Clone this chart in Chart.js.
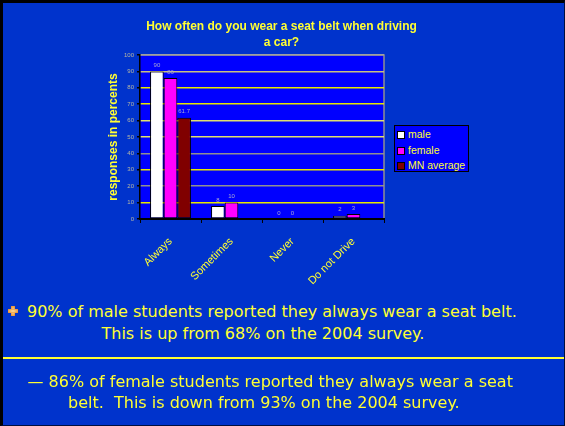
<!DOCTYPE html>
<html>
<head>
<meta charset="utf-8">
<script src="https://cdn.jsdelivr.net/npm/chart.js@4.4.1/dist/chart.umd.min.js"></script>
<style>
  html, body { margin: 0; padding: 0; background: #0033cc; }
  body { width: 565px; height: 426px; position: relative; overflow: hidden; font-family: Arial, "Liberation Sans", sans-serif; }
  #frame { position: absolute; left: 0; top: 0; width: 565px; height: 426px; border-left: 3px solid #000; border-top: 3px solid #000; border-right: 1px solid #001040; border-bottom: 1px solid #001040; box-sizing: border-box; }
  #chart { position: absolute; left: 0; top: 0; }
  #title { position: absolute; left: 100px; width: 363px; top: 18px; text-align: center; color: #ffff33; font: bold 12px/16px Arial, "Liberation Sans", sans-serif; }
  #legend { position: absolute; left: 394px; top: 125px; width: 75px; height: 47px; box-sizing: border-box; background: #0000ff; border: 1px solid #000; padding: 1px 0 0 2px; }
  .item { height: 15.5px; line-height: 14px; color: #ffff33; font-size: 10.5px; white-space: nowrap; }
  .swatch { display: inline-block; width: 6px; height: 6px; border: 1px solid #000; margin-right: 3px; vertical-align: -1px; }
  .txt { position: absolute; color: #ffff33; font: 16px "DejaVu Sans", sans-serif; white-space: nowrap; }
  #rule { position: absolute; left: 0; top: 357px; width: 565px; height: 2px; background: #ffff33; }
  #bullet { position: absolute; left: 8px; top: 306px; width: 10px; height: 10px; }
  #bullet:before, #bullet:after { content: ""; position: absolute; background: radial-gradient(#ffe0a0, #e08020); }
  #bullet:before { left: 3px; top: 0; width: 4px; height: 10px; }
  #bullet:after { left: 0; top: 3px; width: 10px; height: 4px; }
</style>
</head>
<body>
<canvas id="chart" width="565" height="290"></canvas>
<div id="title">How often do you wear a seat belt when driving<br>a car?</div>
<div id="legend"></div>
<div id="bullet"></div>
<div class="txt" id="l1" style="left:27px; top:302px;">90% of male students reported they always wear a seat belt.</div>
<div class="txt" id="l2" style="top:324px;">This is up from 68% on the 2004 survey.</div>
<div id="rule"></div>
<div class="txt" id="l3" style="top:372px;">— 86% of female students reported they always wear a seat</div>
<div class="txt" id="l4" style="top:393px;">belt.&nbsp; This is down from 93% on the 2004 survey.</div>
<div id="frame"></div>
<script>
// categories and series
let categories = ["Always", "Sometimes", "Never", "Do not Drive"];
let male = [90, 8, 0, 2];
let female = [86, 10, 0, 3];
let mnAverage = [61.7, null, null, null];
let seriesNames = ["male", "female", "MN average"];
let seriesColors = ["#ffffff", "#ff00ff", "#800000"];
let yTicks = [0, 10, 20, 30, 40, 50, 60, 70, 80, 90, 100];

// gridline colours per tick (yellow / grey like the original)
let gridColors = ["#000000", "#e8e800", "#909090", "#e8e800", "#909090", "#e0e070", "#e0e070", "#e8e800", "#e8e800", "#c8c080", "#a0a0a0"];

// centre the text lines
function centreAt(id, cx) {
  let el = document.getElementById(id);
  el.style.left = (cx - el.offsetWidth / 2) + "px";
}
centreAt("l2", 263);
centreAt("l3", 270);
centreAt("l4", 264);

// legend
let legend = document.getElementById("legend");
for (let i = 0; i < seriesNames.length; i++) {
  let d = document.createElement("div");
  d.className = "item";
  d.innerHTML = '<span class="swatch" style="background:' + seriesColors[i] + '"></span>' + seriesNames[i];
  legend.appendChild(d);
}

// plot background + right/top frame
let plotBg = {
  id: "plotBg",
  beforeDraw(chart) {
    let a = chart.chartArea, ctx = chart.ctx;
    ctx.save();
    ctx.fillStyle = "#0000ff";
    ctx.fillRect(a.left, a.top, a.right - a.left, a.bottom - a.top);
    ctx.strokeStyle = "#909090";
    ctx.lineWidth = 1.5;
    ctx.beginPath();
    ctx.moveTo(a.left, a.top);
    ctx.lineTo(a.right, a.top);
    ctx.lineTo(a.right, a.bottom);
    ctx.stroke();
    ctx.restore();
  }
};

// value labels above bars
let valueLabels = {
  id: "valueLabels",
  afterDatasetsDraw(chart) {
    let ctx = chart.ctx;
    ctx.save();
    ctx.font = "6px Arial";
    ctx.fillStyle = "#a8a8d0";
    ctx.textAlign = "center";
    ctx.textBaseline = "bottom";
    chart.data.datasets.forEach((ds, di) => {
      chart.getDatasetMeta(di).data.forEach((bar, i) => {
        let v = ds.data[i];
        if (v === null || v === undefined) return;
        ctx.fillText(String(v), bar.x, bar.y - 3);
      });
    });
    ctx.restore();
  }
};

let seriesData = [male, female, mnAverage];

new Chart(document.getElementById("chart"), {
  type: "bar",
  data: {
    labels: categories,
    datasets: seriesNames.map((name, i) => ({
      label: name,
      data: seriesData[i],
      backgroundColor: seriesColors[i],
      borderColor: "#000000",
      borderWidth: 1,
      borderSkipped: false,
      categoryPercentage: 0.67,
      barPercentage: 1.0
    }))
  },
  options: {
    responsive: false,
    animation: false,
    layout: { padding: { left: 100, right: 181, top: 55, bottom: 0 } },
    plugins: {
      legend: { display: false },
      title: { display: false },
      tooltip: { enabled: false }
    },
    scales: {
      x: {
        afterFit(s) { s.height = 71; },
        grid: { drawOnChartArea: false, drawTicks: true, tickLength: 4, color: "#000000", offset: true },
        border: { color: "#000000", width: 2 },
        ticks: {
          color: "#ffff33",
          font: { family: "Arial", size: 11 },
          minRotation: 45,
          maxRotation: 45,
          autoSkip: false,
          padding: 12
        }
      },
      y: {
        min: 0,
        max: 100,
        afterFit(s) { s.width = 40; },
        afterBuildTicks(s) { s.ticks = yTicks.map(v => ({ value: v })); },
        grid: {
          color: ctx => gridColors[ctx.index] || "#e8e800",
          lineWidth: 1.5,
          tickLength: 3,
          tickColor: "#000000"
        },
        border: { color: "#000000", width: 1.5 },
        ticks: {
          color: "#b8b8a0",
          font: { family: "Arial", size: 6 },
          padding: 3
        },
        title: {
          display: true,
          text: "responses in percents",
          color: "#ffff33",
          font: { family: "Arial", size: 12, weight: "bold" },
          padding: { top: 6, bottom: 0 }
        }
      }
    }
  },
  plugins: [plotBg, valueLabels]
});
</script>
</body>
</html>
